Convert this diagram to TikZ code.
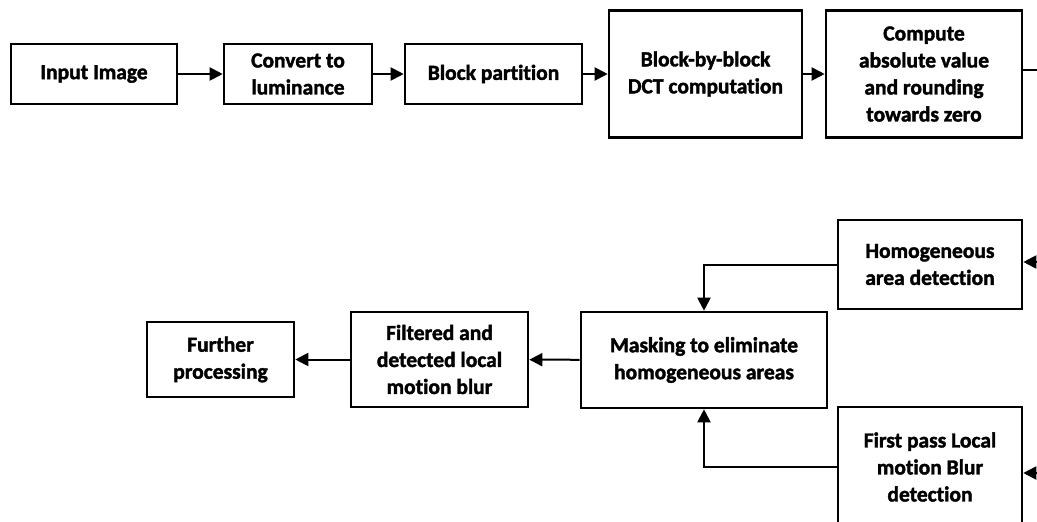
\documentclass[tikz,border=0pt]{standalone}
\usepackage{fontspec}
\setmainfont{Carlito}[Ligatures={NoCommon},BoldFeatures={FakeBold=1.8}]
\usetikzlibrary{arrows.meta}
\begin{document}
\begin{tikzpicture}[x=1pt,y=-1pt,
  box/.style={draw=black, line width=2.6pt, align=center, inner sep=0pt,
    font=\fontsize{21.5}{27}\selectfont\bfseries},
  conn/.style={draw=black, line width=2pt},
  arr/.style={conn, -{Triangle[length=13pt,width=13pt]}}]
\useasboundingbox (0,0) rectangle (1037,522);
\clip (0,0) rectangle (1037,522);
% top row
\node[box, minimum width=166pt, minimum height=60pt] (inp) at (94,74) {Input Image};
\node[box, minimum width=148pt, minimum height=60pt] (conv) at (298,74) {Convert to\\luminance};
\node[box, minimum width=177pt, minimum height=60pt] (part) at (493.5,74) {Block partition};
\node[box, minimum width=193pt, minimum height=127pt] (dct) at (705.5,74) {Block-by-block\\DCT computation};
\node[box, minimum width=196pt, minimum height=127pt] (comp) at (924,74) {Compute\\absolute value\\and rounding\\towards zero};
% bottom row
\node[box, minimum width=184pt, minimum height=89pt] (homog) at (930,264.5) {Homogeneous\\area detection};
\node[box, minimum width=246pt, minimum height=96pt] (mask) at (704,360) {Masking to eliminate\\homogeneous areas};
\node[box, minimum width=184pt, minimum height=120pt] (fp) at (930,467) {First pass Local\\motion Blur\\detection};
\node[box, minimum width=177pt, minimum height=95pt] (filt) at (439.5,359.5) {Filtered and\\detected local\\motion blur};
\node[box, minimum width=147pt, minimum height=75pt] (fur) at (220.5,359.5) {Further\\processing};
% free ends
\coordinate (outR) at (1045,70);
\coordinate (inH) at (1045,262);
\coordinate (inF) at (1045,473);
% connectors
\draw[arr] (inp) -- (conv);
\draw[arr] (conv) -- (part);
\draw[arr] (part) -- (dct);
\draw[arr] (dct) -- (comp);
\draw[conn] (comp.east |- outR) -- (outR);
\draw[arr] (inH) -- (homog.east |- inH);
\draw[arr] (inF) -- (fp.east |- inF);
\draw[arr] (homog.west) -| (mask.north);
\draw[arr] (fp.west) -| (mask.south);
\draw[arr] (mask) -- (filt);
\draw[arr] (filt) -- (fur);
\end{tikzpicture}
\end{document}
